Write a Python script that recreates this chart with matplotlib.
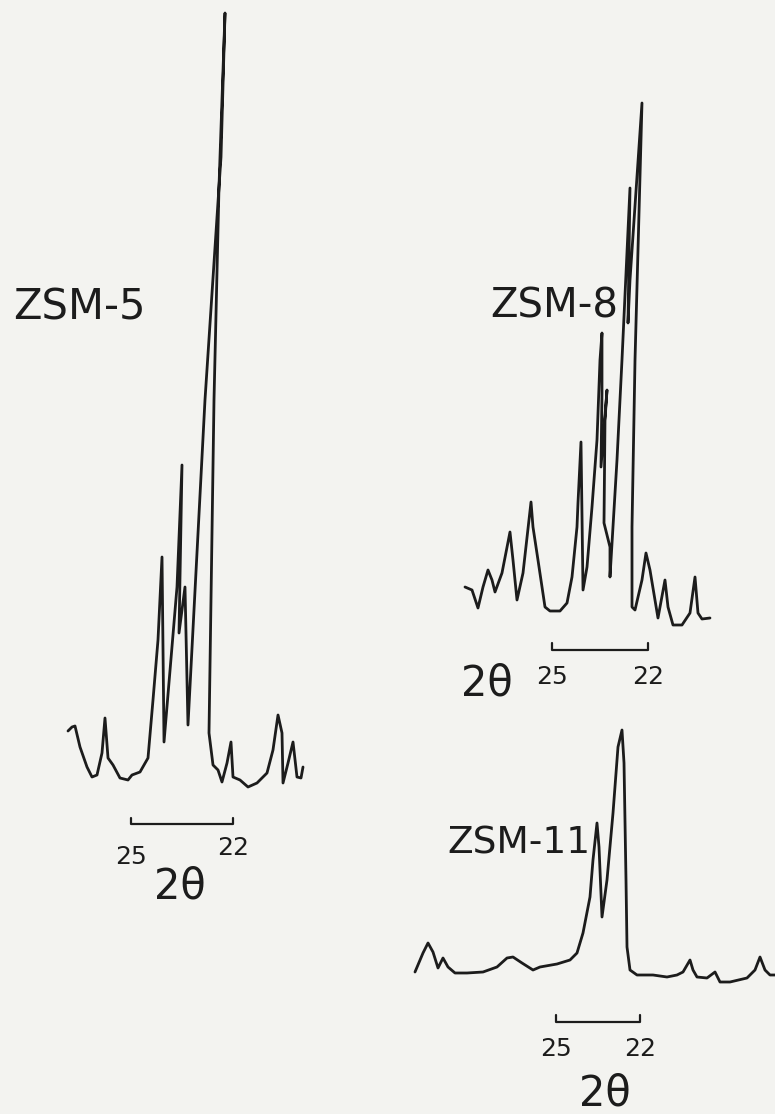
import matplotlib
matplotlib.use("Agg")
import matplotlib.pyplot as plt

# ---------------- data (2theta in degrees, intensity in arbitrary units) ----------------
zsm5_2theta = [26.853, 26.735, 26.647, 26.5, 26.294, 26.147, 26.0, 25.853, 25.765, 25.676,
               25.529, 25.324, 25.088, 24.971, 24.735, 24.5, 24.353, 24.206, 24.088, 24.029,
               23.647, 23.5, 23.588, 23.412, 23.324, 22.824, 22.412, 22.382, 22.235, 22.353,
               22.412, 22.559, 22.706, 22.588, 22.441, 22.324, 22.176, 22.059, 22.0, 21.794,
               21.559, 21.294, 21.0, 20.824, 20.676, 20.559, 20.529, 20.382, 20.235, 20.118,
               20.0, 19.941]
zsm5_int = [59, 63, 64, 43, 23, 13, 15, 37, 72, 32,
            25, 12, 10, 15, 18, 32, 90, 150, 233, 48,
            203, 325, 157, 203, 65, 390, 603, 633, 777, 633,
            603, 390, 57, 25, 20, 8, 27, 48, 13, 10,
            3, 7, 17, 40, 75, 57, 7, 27, 48, 13,
            12, 23]

zsm8_2theta = [27.719, 27.5, 27.313, 27.156, 27.0, 26.875, 26.781, 26.563, 26.313, 26.219,
               26.094, 25.906, 25.656, 25.594, 25.438, 25.219, 25.063, 24.75, 24.531, 24.375,
               24.219, 24.188, 24.094, 24.031, 23.906, 23.75, 23.594, 23.5, 23.438, 23.438,
               23.469, 23.281, 23.344, 23.375, 23.188, 23.188, 22.969, 22.813, 22.563, 22.625,
               22.563, 22.188, 22.406, 22.5, 22.5, 22.406, 22.188, 22.063, 21.938, 21.688,
               21.469, 21.375, 21.219, 20.938, 20.688, 20.531, 20.438, 20.313, 20.063]
zsm8_int = [43, 40, 22, 43, 60, 50, 38, 57, 98, 70,
            30, 57, 128, 103, 70, 23, 19, 19, 27, 53,
            103, 127, 188, 40, 63, 123, 190, 270, 297, 237,
            163, 240, 210, 107, 83, 53, 170, 270, 442, 307,
            350, 527, 270, 103, 23, 20, 50, 77, 60, 12,
            50, 23, 5, 5, 17, 53, 17, 11, 12]

zsm11_2theta = [30.036, 29.75, 29.571, 29.393, 29.214, 29.036, 28.857, 28.607, 28.179, 27.607,
                27.107, 26.75, 26.536, 26.214, 25.821, 25.571, 24.964, 24.5, 24.25, 24.036,
                23.786, 23.679, 23.536, 23.464, 23.357, 23.179, 22.964, 22.786, 22.643, 22.571,
                22.5, 22.464, 22.357, 22.107, 21.536, 21.036, 20.679, 20.464, 20.214, 20.107,
                19.964, 19.607, 19.321, 19.143, 18.786, 18.179, 17.893, 17.714, 17.536, 17.357,
                17.179]
zsm11_int = [13, 32, 42, 33, 17, 27, 18, 12, 12, 13,
             18, 27, 28, 22, 15, 18, 21, 25, 32, 52,
             88, 125, 162, 138, 68, 105, 172, 238, 255, 222,
             105, 38, 15, 10, 10, 8, 10, 13, 25, 15,
             8, 7, 13, 3, 3, 7, 15, 28, 15, 10,
             10]

sample_names = ["ZSM-5", "ZSM-8", "ZSM-11"]
bar_ticks = [25, 22]
bar_labels = ["25", "22"]
axis_label = "2θ"

# ---------------- layout ----------------
W, H = 775, 1114
fig = plt.figure(figsize=(W / 100, H / 100), dpi=100)
fig.patch.set_facecolor("#f3f3f0")
ink = "#1c1c1c"
FONT = "DejaVu Sans"


def panel(x25, ppd, ybase, xlim, ylim):
    left_px = x25 - (xlim[0] - 25) * ppd
    right_px = x25 + (25 - xlim[1]) * ppd
    top_px = ybase - ylim[1]
    bot_px = ybase - ylim[0]
    ax = fig.add_axes([left_px / W, 1 - bot_px / H,
                       (right_px - left_px) / W, (bot_px - top_px) / H])
    ax.set_xlim(*xlim)
    ax.set_ylim(*ylim)
    ax.axis("off")
    ax.patch.set_alpha(0)
    return ax


def scale_bar(ax, ybar, ytick, lab_y, lab_dy):
    ax.plot([bar_ticks[0], bar_ticks[0], bar_ticks[1], bar_ticks[1]],
            [ytick, ybar, ybar, ytick], color=ink, lw=1.6, clip_on=False,
            solid_capstyle="round", solid_joinstyle="round")
    for t, lab, dy in zip(bar_ticks, bar_labels, lab_dy):
        ax.text(t, lab_y + dy, lab, ha="center", va="center", fontsize=18,
                color=ink, family=FONT, clip_on=False)


def trace(ax, x, y):
    ax.plot(x, y, color=ink, lw=2.0, clip_on=False,
            solid_joinstyle="round", solid_capstyle="round")


# ZSM-5
ax5 = panel(131, 34, 790, (28.9, 19.5), (-130, 800))
trace(ax5, zsm5_2theta, zsm5_int)
scale_bar(ax5, -34, -28, -67, [0, 9])
ax5.text(23.56, -97, axis_label, ha="center", va="center", fontsize=30, color=ink, family=FONT)
ax5.text(26.53, 482, sample_names[0], ha="center", va="center", fontsize=30, color=ink, family=FONT)

# ZSM-8
ax8 = panel(552, 32, 630, (28.5, 19.8), (-80, 550))
trace(ax8, zsm8_2theta, zsm8_int)
scale_bar(ax8, -20, -13, -47, [0, 0])
ax8.text(27.03, -53, axis_label, ha="center", va="center", fontsize=30, color=ink, family=FONT)
ax8.text(24.94, 324, sample_names[1], ha="center", va="center", fontsize=29, color=ink, family=FONT)

# ZSM-11
ax11 = panel(556, 28, 985, (30.5, 17.0), (-135, 270))
trace(ax11, zsm11_2theta, zsm11_int)
scale_bar(ax11, -37, -30, -64, [0, 0])
ax11.text(23.25, -108, axis_label, ha="center", va="center", fontsize=30, color=ink, family=FONT)
ax11.text(26.32, 142, sample_names[2], ha="center", va="center", fontsize=27, color=ink, family=FONT)

fig.savefig("out.png", dpi=100, facecolor=fig.get_facecolor())
